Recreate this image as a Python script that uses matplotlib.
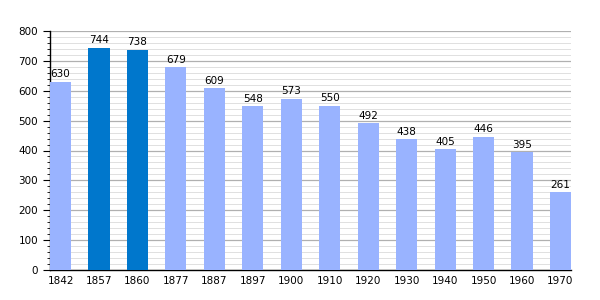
import matplotlib
matplotlib.use("Agg")
import matplotlib.pyplot as plt
from matplotlib.ticker import MultipleLocator

years = ["1842", "1857", "1860", "1877", "1887", "1897", "1900", "1910", "1920", "1930", "1940", "1950", "1960", "1970"]
values = [630, 744, 738, 679, 609, 548, 573, 550, 492, 438, 405, 446, 395, 261]
highlight = ["1857", "1860"]

light = "#99b3ff"
dark = "#0077cc"

fig = plt.figure(figsize=(6, 3), dpi=100)
ax = fig.add_axes([50/600, 30/300, (571-50)/600, (270-31)/300])

x = list(range(len(years)))
colors = [dark if y in highlight else light for y in years]
w = 0.55
ax.bar(x, values, width=w, color=colors, zorder=3)
for xi, v in zip(x, values):
    ax.text(xi, v + 8, str(v), ha="center", va="bottom", fontsize=7.5, zorder=4)

ax.set_xlim(-w/2, len(years) - 1 + w/2)
ax.set_ylim(0, 800)
ax.set_xticks(x)
ax.set_xticklabels(years, fontsize=7.5)
ax.yaxis.set_major_locator(MultipleLocator(100))
ax.yaxis.set_minor_locator(MultipleLocator(20))
ax.tick_params(axis="y", labelsize=7.5, length=5, width=0.8, direction="out")
ax.tick_params(axis="y", which="minor", length=2.5, width=0.6, direction="out")
ax.tick_params(axis="x", length=0, pad=4)
ax.grid(axis="y", which="major", color="#b0b0b0", linewidth=0.9, zorder=1)
ax.grid(axis="y", which="minor", color="#e0e0e0", linewidth=0.7, zorder=1)
for s in ["top", "right"]:
    ax.spines[s].set_visible(False)
ax.spines["left"].set_linewidth(1)
ax.spines["bottom"].set_linewidth(1)

fig.savefig("out.png", dpi=100)
